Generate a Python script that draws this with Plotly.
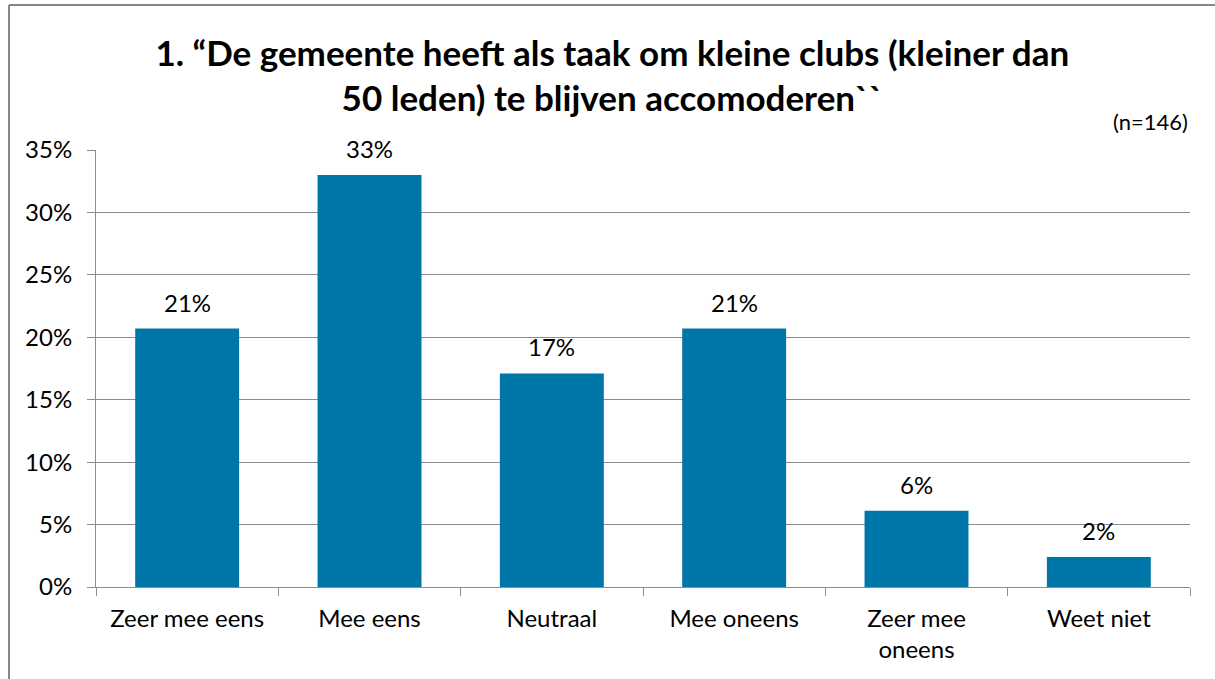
## import packages
import plotly.graph_objects as go

## data
categories = ['Zeer mee eens', 'Mee eens', 'Neutraal', 'Mee oneens', 'Zeer mee<br>oneens', 'Weet niet']
values = [20.7, 33.0, 17.1, 20.7, 6.1, 2.4]
labels = ['21%', '33%', '17%', '21%', '6%', '2%']
tick_vals = [0, 5, 10, 15, 20, 25, 30, 35]
tick_text = ['0%', '5%', '10%', '15%', '20%', '25%', '30%', '35%']

## parameters
params = dict()
params['bar'] = '#0076A8'
params['grid'] = '#8C8C8C'
params['font'] = 'Lato, Carlito, Calibri, sans-serif'
params['size'] = 24

fig = go.Figure()
fig.add_trace(go.Bar(
    x = categories, y = values,
    marker = dict(color = params['bar'], line = dict(width = 0)),
    hoverinfo = 'skip',
    ))

## data labels above the bars
for cat, val, lab in zip(categories, values, labels):
    fig.add_annotation(
        x = cat, y = val, text = lab, showarrow = False,
        yanchor = 'bottom', yshift = 10,
        font = dict(size = params['size'], color = '#000000', family = params['font']),
        )

## sample size note
fig.add_annotation(
    xref = 'paper', yref = 'paper', x = 1.0, y = 1.03, text = '(n=146)',
    showarrow = False, xanchor = 'right', yanchor = 'bottom',
    font = dict(size = params['size'] - 2, color = '#000000', family = params['font']),
    )

## outer chart frame (only left and top edges fall inside the picture)
frame = dict(color = '#868686', width = 2)
fig.add_shape(type = 'line', xref = 'paper', yref = 'paper',
    x0 = -0.0795, x1 = -0.0795, y0 = -0.5, y1 = 1.3318, line = frame, layer = 'below')
fig.add_shape(type = 'line', xref = 'paper', yref = 'paper',
    x0 = -0.0795, x1 = 1.05, y0 = 1.3318, y1 = 1.3318, line = frame, layer = 'below')

fig.update_layout(
    width = 1215, height = 679,
    margin = dict(l = 96, r = 25, t = 150, b = 92),
    plot_bgcolor = '#FFFFFF', paper_bgcolor = '#FFFFFF',
    bargap = 0.43,
    showlegend = False,
    font = dict(family = params['font'], size = params['size'], color = '#000000'),
    title = dict(
        text = '<b>1. “De gemeente heeft als taak om kleine clubs (kleiner dan<br>50 leden) te blijven accomoderen``</b>',
        x = 0.504, xref = 'container', xanchor = 'center',
        y = 0.903, yref = 'container', yanchor = 'top',
        font = dict(size = 35, color = '#000000', family = params['font']),
        ),
    xaxis = dict(
        showline = True, linecolor = params['grid'], linewidth = 1,
        ticks = 'outside', tickson = 'boundaries', ticklen = 8,
        tickcolor = params['grid'], showgrid = False,
        ticklabelstandoff = 10,
        tickfont = dict(size = params['size'], family = params['font']),
        ),
    yaxis = dict(
        range = [0, 35], tickvals = tick_vals, ticktext = tick_text,
        showline = True, linecolor = params['grid'], linewidth = 1,
        ticks = 'outside', ticklen = 8, tickcolor = params['grid'],
        showgrid = True, gridcolor = params['grid'], gridwidth = 1,
        zeroline = False, ticklabelstandoff = 10,
        tickfont = dict(size = params['size'], family = params['font']),
        ),
    )

## drop the page margin and scrollbars so the figure fills the window
fig.write_html('out.html',
    config = {'displayModeBar': False},
    post_script = "document.body.style.margin='0';document.body.style.overflow='hidden';")
